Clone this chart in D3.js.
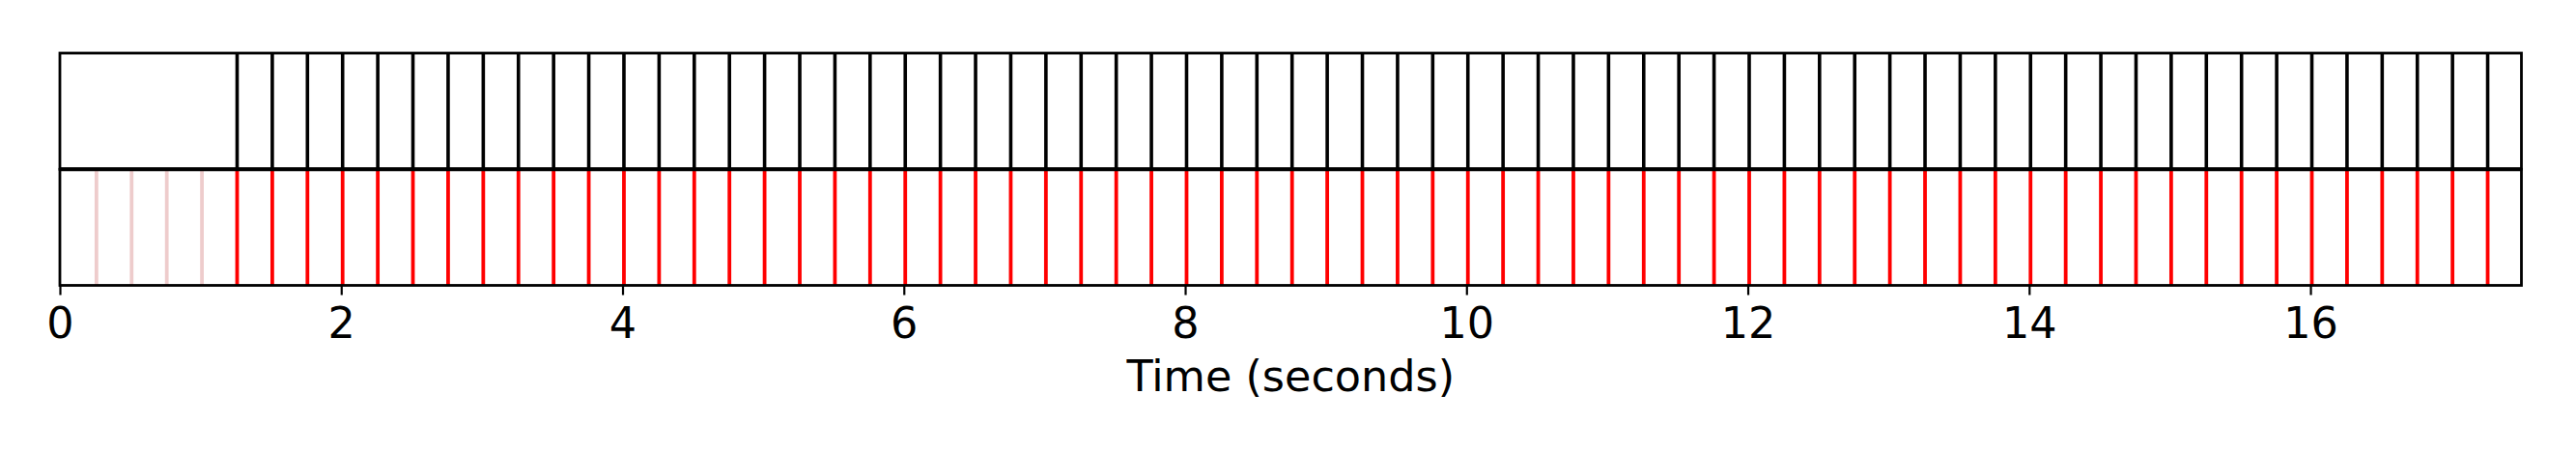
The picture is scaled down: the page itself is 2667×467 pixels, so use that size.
<!DOCTYPE html>
<html>
<head>
<meta charset="utf-8">
<script src="https://cdn.jsdelivr.net/npm/d3@7"></script>
<style>
html,body{margin:0;padding:0;background:#fff;}
svg{display:block;}
</style>
</head>
<body>
<svg id="chart" width="2667" height="467"></svg>
<script>
// Data (seconds)
const referenceBeats = [
  1.26, 1.51, 1.76, 2.01, 2.26, 2.51, 2.76, 3.01, 3.26, 3.51, 3.76, 4.01,
  4.26, 4.51, 4.76, 5.01, 5.26, 5.51, 5.76, 6.01, 6.26, 6.51, 6.76, 7.01,
  7.26, 7.51, 7.76, 8.01, 8.26, 8.51, 8.76, 9.01, 9.26, 9.51, 9.76, 10.01,
  10.26, 10.51, 10.76, 11.01, 11.26, 11.51, 11.76, 12.01, 12.26, 12.51, 12.76, 13.01,
  13.26, 13.51, 13.76, 14.01, 14.26, 14.51, 14.76, 15.01, 15.26, 15.51, 15.76, 16.01,
  16.26, 16.51, 16.76, 17.01, 17.26, 17.51
];
const trimmedBeats = [0.26, 0.51, 0.76, 1.01];
const estimatedBeats = [
  1.26, 1.51, 1.76, 2.01, 2.26, 2.51, 2.76, 3.01, 3.26, 3.51, 3.76, 4.01,
  4.26, 4.51, 4.76, 5.01, 5.26, 5.51, 5.76, 6.01, 6.26, 6.51, 6.76, 7.01,
  7.26, 7.51, 7.76, 8.01, 8.26, 8.51, 8.76, 9.01, 9.26, 9.51, 9.76, 10.01,
  10.26, 10.51, 10.76, 11.01, 11.26, 11.51, 11.76, 12.01, 12.26, 12.51, 12.76, 13.01,
  13.26, 13.51, 13.76, 14.01, 14.26, 14.51, 14.76, 15.01, 15.26, 15.51, 15.76, 16.01,
  16.26, 16.51, 16.76, 17.01, 17.26, 17.51
];
const xDomain = [0, 17.5];
const tickValues = [0, 2, 4, 6, 8, 10, 12, 14, 16];
const rows = ["reference", "estimated"];
const xLabel = "Time (seconds)";

(function () {
const svg = d3.select("#chart");
const mLeft = 62, mRight = 2610.5, mTop = 55, mBottom = 295.5;
const x = d3.scaleLinear().domain(xDomain).range([mLeft, mRight]);
const y = d3.scaleBand().domain(rows).range([mTop, mBottom]);

svg.append("defs").append("clipPath").attr("id", "clip")
  .append("rect").attr("x", mLeft).attr("y", mTop)
  .attr("width", mRight - mLeft).attr("height", mBottom - mTop);

const plot = svg.append("g").attr("clip-path", "url(#clip)");

function drawEvents(data, row, color, width) {
  plot.append("g").selectAll("line").data(data).join("line")
    .attr("x1", d => x(d)).attr("x2", d => x(d))
    .attr("y1", y(row)).attr("y2", y(row) + y.bandwidth())
    .attr("stroke", color).attr("stroke-width", width);
}
drawEvents(referenceBeats, "reference", "#000", 3.6);
drawEvents(trimmedBeats, "estimated", "#eecccc", 3.8);
drawEvents(estimatedBeats, "estimated", "#ff0000", 3.8);

rows.forEach(r => {
  svg.append("rect").attr("x", mLeft).attr("y", y(r))
    .attr("width", mRight - mLeft).attr("height", y.bandwidth())
    .attr("fill", "none").attr("stroke", "#000").attr("stroke-width", 2.8);
});
svg.append("line").attr("x1", mLeft).attr("x2", mRight)
  .attr("y1", y("estimated")).attr("y2", y("estimated"))
  .attr("stroke", "#000").attr("stroke-width", 4.2);

const axis = d3.axisBottom(x).tickValues(tickValues).tickSize(10).tickPadding(10)
  .tickFormat(d3.format("d"));
const ax = svg.append("g").attr("transform", `translate(0,${mBottom})`).call(axis);
ax.select(".domain").remove();
ax.selectAll(".tick line").attr("stroke", "#000").attr("stroke-width", 2.2);
ax.selectAll(".tick text")
  .attr("font-family", "DejaVu Sans").attr("font-size", 44.5).attr("fill", "#000")
  .attr("dy", null)
  .attr("y", 350 - mBottom);

svg.append("text").attr("x", (mLeft + mRight) / 2).attr("y", 405)
  .attr("text-anchor", "middle").attr("font-family", "DejaVu Sans")
  .attr("font-size", 44.5).attr("fill", "#000").text(xLabel);
})();
</script>
</body>
</html>
